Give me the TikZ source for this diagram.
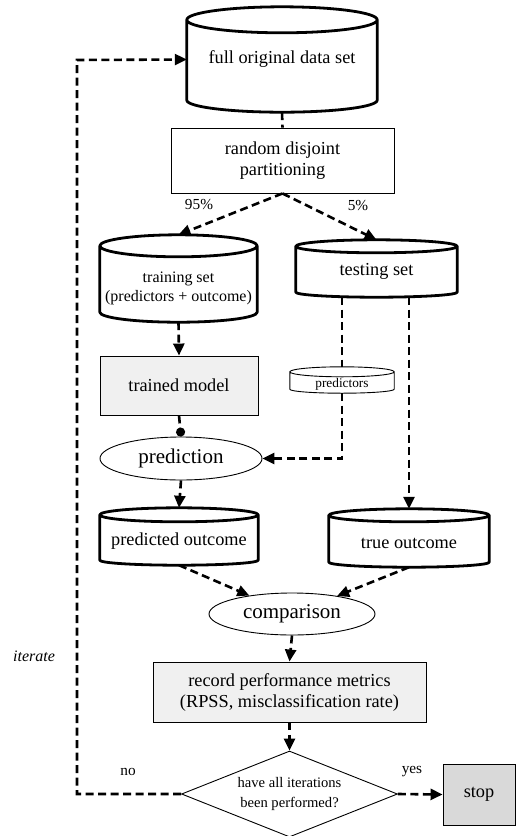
\documentclass[tikz,border=0pt]{standalone}
\usepackage{fontspec}
\setmainfont{Liberation Serif}
\usetikzlibrary{arrows.meta,shapes.geometric,calc}

\tikzset{
  flow/.style={line width=2.6pt, dash pattern=on 8pt off 4.5pt, -{Triangle[length=12pt,width=11pt]}},
  flowplain/.style={line width=2.6pt, dash pattern=on 8pt off 4.5pt},
  flowdot/.style={line width=2.6pt, dash pattern=on 8pt off 4.5pt, -{Circle[length=9pt]}},
  datastore/.style={draw=none, inner sep=0pt, align=center, font=\fontsize{18.3}{21}\selectfont},
  procbox/.style={draw, line width=0.9pt, rectangle, inner sep=0pt, align=center, font=\fontsize{18.3}{21}\selectfont},
  actoval/.style={draw, line width=0.9pt, ellipse, inner sep=0pt, font=\fontsize{21}{24}\selectfont},
  lbl/.style={font=\fontsize{15.3}{18}\selectfont}
}

% text lowered inside a cylinder body, keeping the box size it reports
\newcommand\lowered[2]{\raisebox{-#1}[\height][\depth]{#2}}

% cylinder outline drawn around a named node: #1 name, #2 top radius, #3 bottom depth, #4 line width
\newcommand\drawdrum[4]{%
  \path let \p1=(#1.north west), \p2=(#1.south east), \n1={(\x2-\x1)/2} in
    [draw, line width=#4, line join=round]
    (\x1,\y1-#2pt) -- (\x1,\y2+#3pt) arc[start angle=180, end angle=360, x radius=\n1, y radius=#3pt]
    -- (\x2,\y1-#2pt)
    (\x1+\n1,\y1-#2pt) ellipse[x radius=\n1, y radius=#2pt];
}

\begin{document}
\begin{tikzpicture}[x=1pt,y=1pt]
\useasboundingbox (0,0) rectangle (515,-836);

% ---- nodes ----
\node[datastore, minimum width=190, minimum height=105] (full) at (282,-59.5) {full original data set};
\drawdrum{full}{13}{12}{2.8pt}

\node[procbox, minimum width=223, minimum height=65] (part) at (282.5,-160.5) {random disjoint\\partitioning};

\node[datastore, minimum width=157, minimum height=87, font=\fontsize{16}{20}\selectfont] (train) at (178.5,-278.5)
  {\lowered{9pt}{\begin{tabular}{@{}c@{}}training set\\[-1pt](predictors + outcome)\end{tabular}}};
\drawdrum{train}{11}{10}{2.8pt}

\node[datastore, minimum width=161, minimum height=57] (test) at (376.5,-268.5) {\lowered{3pt}{testing set}};
\drawdrum{test}{6.5}{5}{2.8pt}

\node[procbox, fill=black!6, minimum width=158, minimum height=59] (model) at (179,-385.5) {trained model};

\node[datastore, minimum width=104, minimum height=26, font=\fontsize{13.3}{16}\selectfont] (preds) at (342,-380) {\lowered{4pt}{predictors}};
\drawdrum{preds}{5}{4}{0.9pt}

\node[actoval, minimum width=162, minimum height=43] (predict) at (181,-458.5) {prediction};

\node[datastore, minimum width=158, minimum height=57] (pout) at (179,-536.5) {\lowered{5pt}{predicted outcome}};
\drawdrum{pout}{7}{5}{2.8pt}

\node[datastore, minimum width=160, minimum height=58] (tout) at (409,-538) {\lowered{5pt}{true outcome}};
\drawdrum{tout}{6.5}{5}{2.8pt}

\node[actoval, minimum width=166, minimum height=42] (comp) at (292,-614) {comparison};

\node[procbox, fill=black!6, minimum width=273, minimum height=60] (record) at (289.5,-692) {record performance metrics\\(RPSS, misclassification rate)};

\node[draw, line width=0.9pt, diamond, aspect=2.5, inner sep=0pt, minimum width=216, minimum height=86, align=center, font=\fontsize{14.6}{20}\selectfont] (done) at (289.5,-794) {have all iterations\\been performed?};

\node[procbox, fill=black!15, minimum width=72, minimum height=61] (stop) at (479,-794.5) {stop};

\coordinate (loop) at (77,-60);

% ---- labels ----
\node[lbl] (p95) at (199,-205) {95\%};
\node[lbl] (p5) at (358,-206) {5\%};
\node[lbl] (no) at (128,-772) {no};
\node[lbl] (yes) at (412,-772) {yes};
\node[font=\fontsize{16}{18}\selectfont\itshape] (iter) at (34,-656) {iterate};

% ---- connectors ----
\draw[flowplain] (full.south) -- (part.north);
\draw[flow] (part.south) -- (train.north);
\draw[flow] (part.south) -- (test.north);
\draw[flow] (train.south) -- (model.north);
\draw[flowplain] (preds.north |- test.south) -- (preds.north);
\draw[flow] (preds.south) |- (predict.east);
\draw[flow] (tout.north |- test.south) -- (tout.north);
\draw[flowdot] (model.south) -- (predict.north);
\draw[flow] (predict.south) -- (pout.north);
\draw[flow] (pout.south) -- (comp);
\draw[flow] (tout.south) -- (comp);
\draw[flow] (comp.south) -- (record.north);
\draw[flow] (record.south) -- (done.north);
\draw[flow] (done.east) -- (stop.west);
\draw[flow] (done.west) -| (loop) -- (full.west);
\end{tikzpicture}
\end{document}
